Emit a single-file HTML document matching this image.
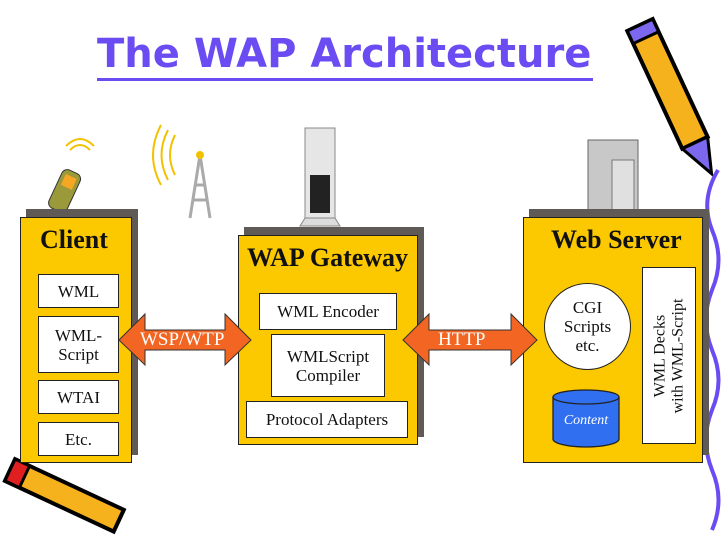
<!DOCTYPE html>
<html><head><style>
body{margin:0;width:728px;height:546px;background:#fff;position:relative;overflow:hidden;font-family:"Liberation Serif",serif}
.a{position:absolute}
.box{position:absolute;background:#fcc800;border:1.5px solid #222;box-sizing:border-box}
.sh{position:absolute;background:#5f5a55}
.w{position:absolute;background:#fff;border:1.3px solid #222;box-sizing:border-box;text-align:center;font-size:17px;color:#111;line-height:19px;display:flex;align-items:center;justify-content:center}
.h{position:absolute;font-weight:bold;font-size:26px;color:#111}
</style></head><body>
<div class="a" style="left:97px;top:30px;font-family:'DejaVu Sans',sans-serif;font-weight:bold;font-size:40px;color:#6a4cf2;letter-spacing:0px;line-height:48px;">The WAP Architecture</div>
<div class="a" style="left:97px;top:78px;width:496px;height:3px;background:#6a4cf2"></div>

<svg class="a" style="left:0;top:0" width="728" height="546">
<g transform="translate(640,25) rotate(-25)">
<rect x="-14" y="0" width="28" height="130" fill="#f6b21c" stroke="#000" stroke-width="4"/>
<rect x="-14" y="0" width="28" height="14" fill="#7b68ee" stroke="#000" stroke-width="3"/>
<polygon points="-14,130 14,130 2,165" fill="#7b68ee" stroke="#000" stroke-width="3"/>
</g>
<path d="M718,170 Q700,200 712,230 Q725,260 712,290 Q700,320 712,350 Q725,380 712,410 Q700,440 712,470 Q725,500 712,530" fill="none" stroke="#6a4cf2" stroke-width="4"/>
<g transform="translate(10,470) rotate(25)">
<rect x="0" y="-12" width="120" height="24" fill="#f6b21c" stroke="#000" stroke-width="4"/>
<rect x="0" y="-12" width="16" height="24" fill="#e02020" stroke="#000" stroke-width="3"/>
</g>
<g transform="translate(65,190) rotate(25)"><rect x="-10" y="-20" width="20" height="42" rx="6" fill="#9a9a3a" stroke="#333"/><rect x="-6" y="-15" width="12" height="12" fill="#f5a623"/></g>
<path d="M70,150 q10,-10 20,0 M66,146 q14,-14 28,0" fill="none" stroke="#f2c200" stroke-width="2"/>
<path d="M190,218 L200,155 L210,218 M195,185 L205,185 M192,200 L208,200" stroke="#aaa" stroke-width="3" fill="none"/>
<path d="M175,135 q-10,20 0,40 M168,130 q-13,25 0,50 M161,125 q-16,30 0,60" stroke="#f2c200" stroke-width="2" fill="none"/>
<circle cx="200" cy="155" r="4" fill="#f2c200"/>
<rect x="305" y="128" width="30" height="95" fill="#e6e6e6" stroke="#888"/>
<rect x="310" y="175" width="20" height="38" fill="#222"/>
<polygon points="300,226 340,226 335,218 305,218" fill="#ddd" stroke="#888"/>
<rect x="588" y="140" width="50" height="75" fill="#c8c8c8" stroke="#666"/>
<rect x="612" y="160" width="22" height="55" fill="#e0e0e0" stroke="#777"/>
</svg>

<div class="sh" style="left:26px;top:209px;width:112px;height:246px"></div>
<div class="box" style="left:20px;top:217px;width:112px;height:246px"></div>
<div class="h" style="left:40px;top:225px">Client</div>
<div class="w" style="left:38px;top:274px;width:81px;height:34px">WML</div>
<div class="w" style="left:38px;top:316px;width:81px;height:57px">WML-<br>Script</div>
<div class="w" style="left:38px;top:380px;width:81px;height:34px">WTAI</div>
<div class="w" style="left:38px;top:422px;width:81px;height:34px">Etc.</div>

<div class="sh" style="left:244px;top:227px;width:180px;height:210px"></div>
<div class="box" style="left:238px;top:235px;width:180px;height:210px"></div>
<div class="h" style="left:247px;top:243px">WAP Gateway</div>
<div class="w" style="left:259px;top:293px;width:138px;height:37px">WML Encoder</div>
<div class="w" style="left:271px;top:334px;width:114px;height:63px">WMLScript<br>Compiler</div>
<div class="w" style="left:246px;top:401px;width:162px;height:37px">Protocol Adapters</div>

<div class="sh" style="left:529px;top:209px;width:180px;height:246px"></div>
<div class="box" style="left:523px;top:217px;width:180px;height:246px"></div>
<div class="h" style="left:551px;top:225px">Web Server</div>
<div class="w" style="left:544px;top:283px;width:87px;height:87px;border-radius:50%">CGI<br>Scripts<br>etc.</div>
<svg class="a" style="left:552px;top:389px" width="70" height="60"><path d="M1,8 L1,50 A33,8 0 0 0 67,50 L67,8" fill="#2f6ff0" stroke="#222" stroke-width="1.3"/><ellipse cx="34" cy="8" rx="33" ry="7" fill="#2f6ff0" stroke="#222" stroke-width="1.3"/><text x="34" y="35" text-anchor="middle" font-family="Liberation Serif" font-style="italic" font-size="14" fill="#fff">Content</text></svg>
<div class="w" style="left:642px;top:267px;width:54px;height:177px"><div style="transform:rotate(-90deg);white-space:nowrap;font-size:16px;line-height:18px">WML Decks<br>with WML-Script</div></div>

<svg class="a" style="left:0;top:0" width="728" height="546">
<polygon points="119,340 145,314 145,330 225,330 225,314 251,340 225,365 225,350 145,350 145,365" fill="#f26522" stroke="#333" stroke-width="1"/>
<polygon points="403,340 429,314 429,330 511,330 511,314 537,340 511,365 511,350 429,350 429,365" fill="#f26522" stroke="#333" stroke-width="1"/>
</svg>
<div class="a" style="left:140px;top:329px;font-size:19px;color:#fff">WSP/WTP</div>
<div class="a" style="left:438px;top:329px;font-size:19px;color:#fff">HTTP</div>
</body></html>
